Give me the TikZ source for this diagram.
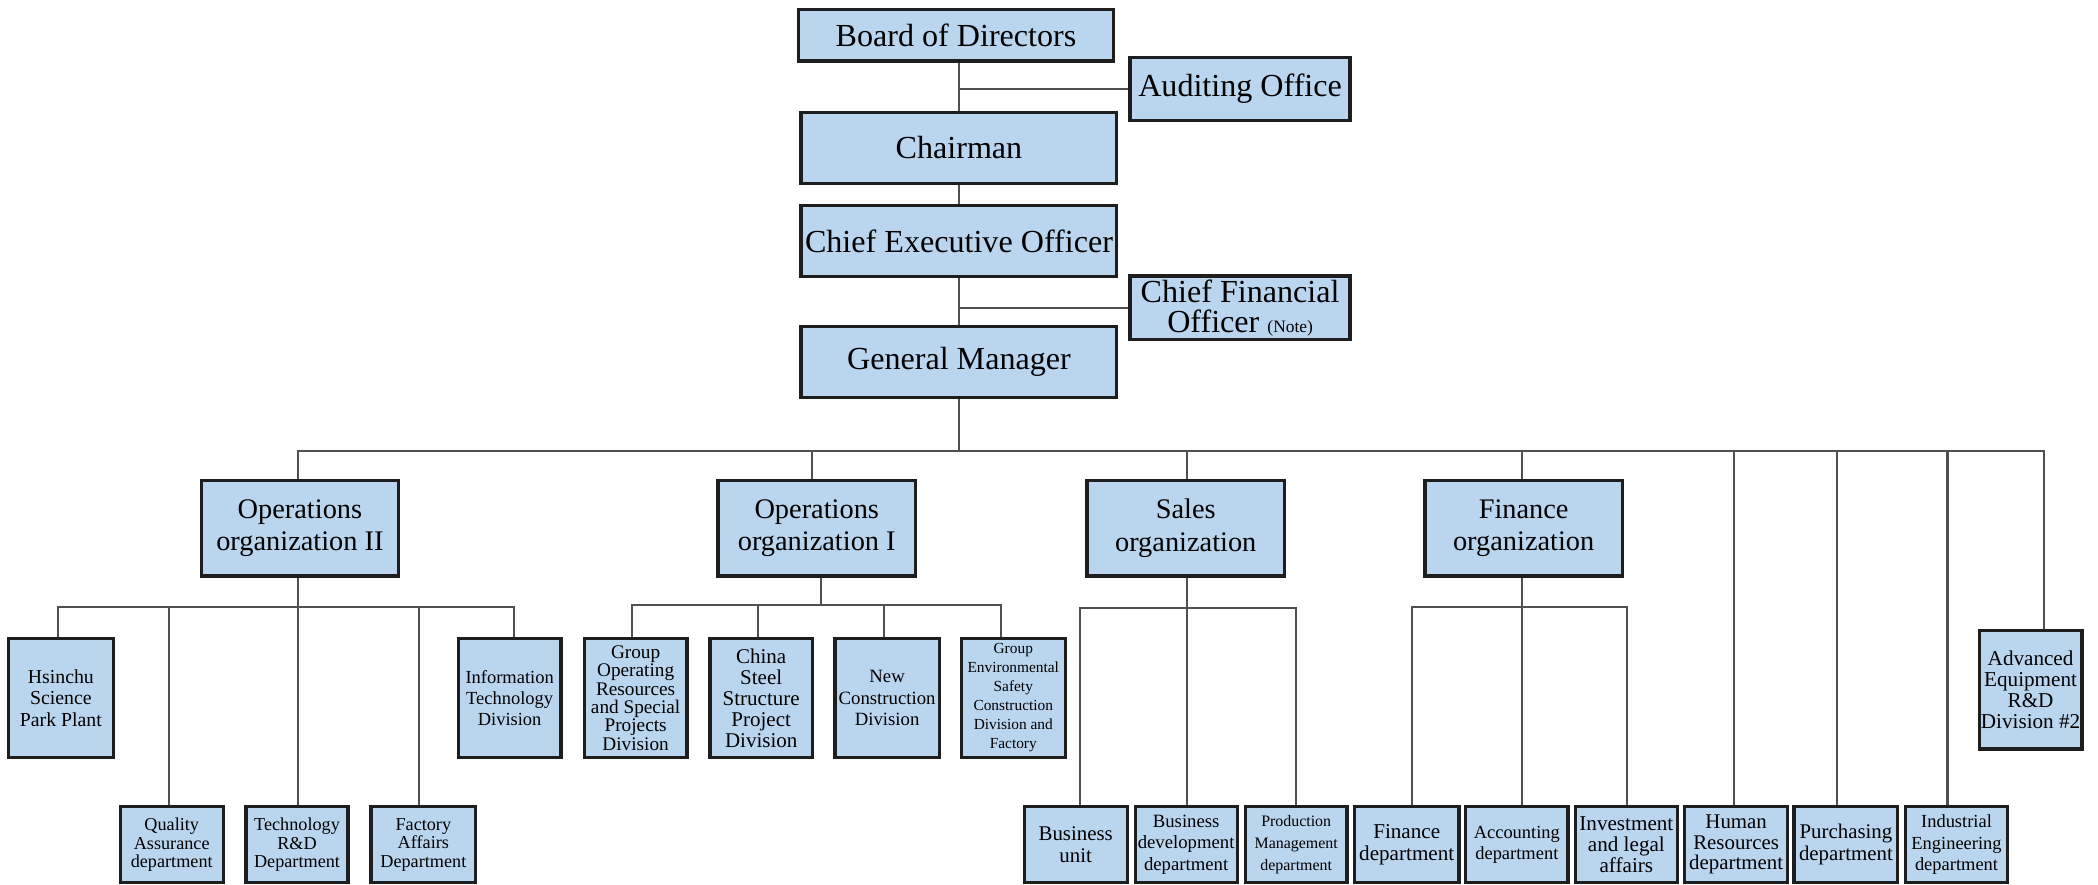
\documentclass[tikz,border=0pt]{standalone}
\usepackage{fontspec}
\setmainfont{Liberation Serif}
\definecolor{boxfill}{HTML}{BAD6EE}
\definecolor{boxline}{HTML}{1E1E1E}
\definecolor{connc}{HTML}{505050}
\tikzset{
  orgbox/.style={rectangle,draw=boxline,line width=1.2pt,fill=boxfill,inner sep=0pt,align=center},
  fs/.style 2 args={font=\fontsize{#1}{#2}\selectfont},
  conn/.style={draw=connc,line width=0.75pt},
}
\newcommand\orgbox[7]{%
  \node[orgbox,#6,minimum width={(#4-#2)*0.5pt},minimum height={(#5-#3)*0.5pt}] (#1) at ({(#2+#4)/2},{(#3+#5)/2}) {#7};}
\begin{document}
\begin{tikzpicture}[x=0.5pt,y=-0.5pt]
\useasboundingbox (0,0) rectangle (1568,661);
% top level
\orgbox{board}{597}{7}{832}{45.6}{fs={12}{12}}{Board of Directors}
\orgbox{audit}{844.6}{42.8}{1009}{90.2}{fs={12}{12}}{Auditing Office}
\orgbox{chair}{598.7}{84}{834.7}{137}{fs={12}{12}}{Chairman}
\orgbox{ceo}{598.7}{153.7}{834.7}{206.8}{fs={12}{12}}{Chief Executive Officer}
\orgbox{cfo}{844.6}{206.3}{1009}{254}{fs={12}{11.5}}{Chief Financial\\Officer {\fontsize{6.5}{7}\selectfont (Note)}}
\orgbox{gm}{598.7}{244.2}{834.7}{297.2}{fs={12}{12}}{General Manager}
% organizations
\orgbox{opsII}{150.5}{359}{297.8}{430.5}{fs={10.6}{12}}{Operations\\organization II}
\orgbox{opsI}{536.6}{359}{684.2}{430.5}{fs={10.6}{12}}{Operations\\organization I}
\orgbox{sales}{812.4}{359}{960}{430.5}{fs={10.6}{12}}{Sales\\organization}
\orgbox{finorg}{1065}{359}{1212.5}{430.5}{fs={10.6}{12}}{Finance\\organization}
% second row
\orgbox{hsin}{6.2}{477.3}{84.8}{566}{fs={7.4}{8}}{Hsinchu\\Science\\Park Plant}
\orgbox{it}{342.5}{477.3}{419.3}{566}{fs={6.9}{8}}{Information\\Technology\\Division}
\orgbox{grpop}{436.6}{477.3}{513.5}{566}{fs={7.2}{6.9}}{Group\\Operating\\Resources\\and Special\\Projects\\Division}
\orgbox{china}{530.6}{477.3}{607.2}{566}{fs={7.85}{7.85}}{China\\Steel\\Structure\\Project\\Division}
\orgbox{newcon}{624}{477.3}{702}{566}{fs={7}{8.1}}{New\\Construction\\Division}
\orgbox{grpenv}{718.3}{477.3}{796.3}{566}{fs={5.75}{7.1}}{Group\\Environmental\\Safety\\Construction\\Division and\\Factory}
\orgbox{adv}{1479.2}{471.4}{1556}{559.8}{fs={7.9}{7.9}}{Advanced\\Equipment\\R\&D\\Division \#2}
% bottom row
\orgbox{qa}{89.9}{603}{166.8}{659.6}{fs={6.8}{7}}{Quality\\Assurance\\department}
\orgbox{tech}{183.9}{603}{260.1}{659.6}{fs={6.8}{7}}{Technology\\R\&D\\Department}
\orgbox{fac}{277.3}{603}{355.5}{659.6}{fs={6.8}{7}}{Factory\\Affairs\\Department}
\orgbox{bu}{765.4}{603}{842.5}{659.6}{fs={7.8}{8.1}}{Business\\unit}
\orgbox{bd}{848.4}{603}{924.6}{659.6}{fs={7}{8}}{Business\\development\\department}
\orgbox{prod}{930.8}{603}{1006.7}{659.6}{fs={5.95}{8.2}}{Production\\Management\\department}
\orgbox{findep}{1012.3}{603}{1090.4}{659.6}{fs={7.9}{7.9}}{Finance\\department}
\orgbox{acc}{1095.4}{603}{1171.9}{659.6}{fs={6.9}{8}}{Accounting\\department}
\orgbox{inv}{1177.2}{603}{1253.8}{659.6}{fs={7.9}{8}}{Investment\\and legal\\affairs}
\orgbox{hr}{1259}{603}{1336.1}{659.6}{fs={7.8}{7.7}}{Human\\Resources\\department}
\orgbox{pur}{1340.8}{603}{1418.4}{659.6}{fs={7.8}{8.1}}{Purchasing\\department}
\orgbox{ie}{1424.4}{603}{1500.1}{659.6}{fs={6.9}{8}}{Industrial\\Engineering\\department}
% top connectors
\draw[conn] (chair.north) -- (chair.north |- board.south);
\draw[conn] (audit.west) -- (audit.west -| chair.north);
\draw[conn] (chair.south) -- (ceo.north);
\draw[conn] (ceo.south) -- (gm.north);
\draw[conn] (cfo.west) -- (cfo.west -| gm.north);
% main bus
\coordinate (busL) at (222.9,337);
\coordinate (busR) at (1527.3,337);
\coordinate (jOpsI) at (607.2,337);
\coordinate (jSales) at (886.8,337);
\coordinate (jFin) at (1137.2,337);
\coordinate (jHR) at (1296.1,337);
\coordinate (jPur) at (1373.2,337);
\coordinate (jIE) at (1455.5,337);
\draw[conn] (gm.south) -- (gm.south |- busL);
\draw[conn] (busL |- opsII.north) -- (busL) -- (busR) -- (busR |- adv.north);
\draw[conn] (jOpsI) -- (jOpsI |- opsI.north);
\draw[conn] (jSales) -- (jSales |- sales.north);
\draw[conn] (jFin) -- (jFin |- finorg.north);
\draw[conn] (jHR) -- (jHR |- hr.north);
\draw[conn] (jPur) -- (jPur |- pur.north);
\draw[conn] (jIE) -- (jIE |- ie.north);
% operations organization II
\coordinate (s2L) at (43.6,453.4);
\coordinate (s2R) at (384.3,453.4);
\coordinate (s2c) at (222.9,453.4);
\coordinate (jQA) at (126,453.4);
\coordinate (jFac) at (313.3,453.4);
\draw[conn] (s2c |- opsII.south) -- (s2c |- tech.north);
\draw[conn] (s2L |- hsin.north) -- (s2L) -- (s2R) -- (s2R |- it.north);
\draw[conn] (jQA) -- (jQA |- qa.north);
\draw[conn] (jFac) -- (jFac |- fac.north);
% operations organization I
\coordinate (s1L) at (472.7,452.2);
\coordinate (s1R) at (748.2,452.2);
\coordinate (s1c) at (613.4,452.2);
\coordinate (jChina) at (566.2,452.2);
\coordinate (jNew) at (660.7,452.2);
\draw[conn] (s1c |- opsI.south) -- (s1c);
\draw[conn] (s1L |- grpop.north) -- (s1L) -- (s1R) -- (s1R |- grpenv.north);
\draw[conn] (jChina) -- (jChina |- china.north);
\draw[conn] (jNew) -- (jNew |- newcon.north);
% sales organization
\coordinate (ssL) at (806.9,454.4);
\coordinate (ssR) at (968.3,454.4);
\coordinate (ssc) at (886.8,454.4);
\draw[conn] (ssc |- sales.south) -- (ssc |- bd.north);
\draw[conn] (ssL |- bu.north) -- (ssL) -- (ssR) -- (ssR |- prod.north);
% finance organization
\coordinate (sfL) at (1055.1,454);
\coordinate (sfR) at (1216,454);
\coordinate (sfc) at (1137.2,454);
\draw[conn] (sfc |- finorg.south) -- (sfc |- acc.north);
\draw[conn] (sfL |- findep.north) -- (sfL) -- (sfR) -- (sfR |- inv.north);
\end{tikzpicture}
\end{document}
